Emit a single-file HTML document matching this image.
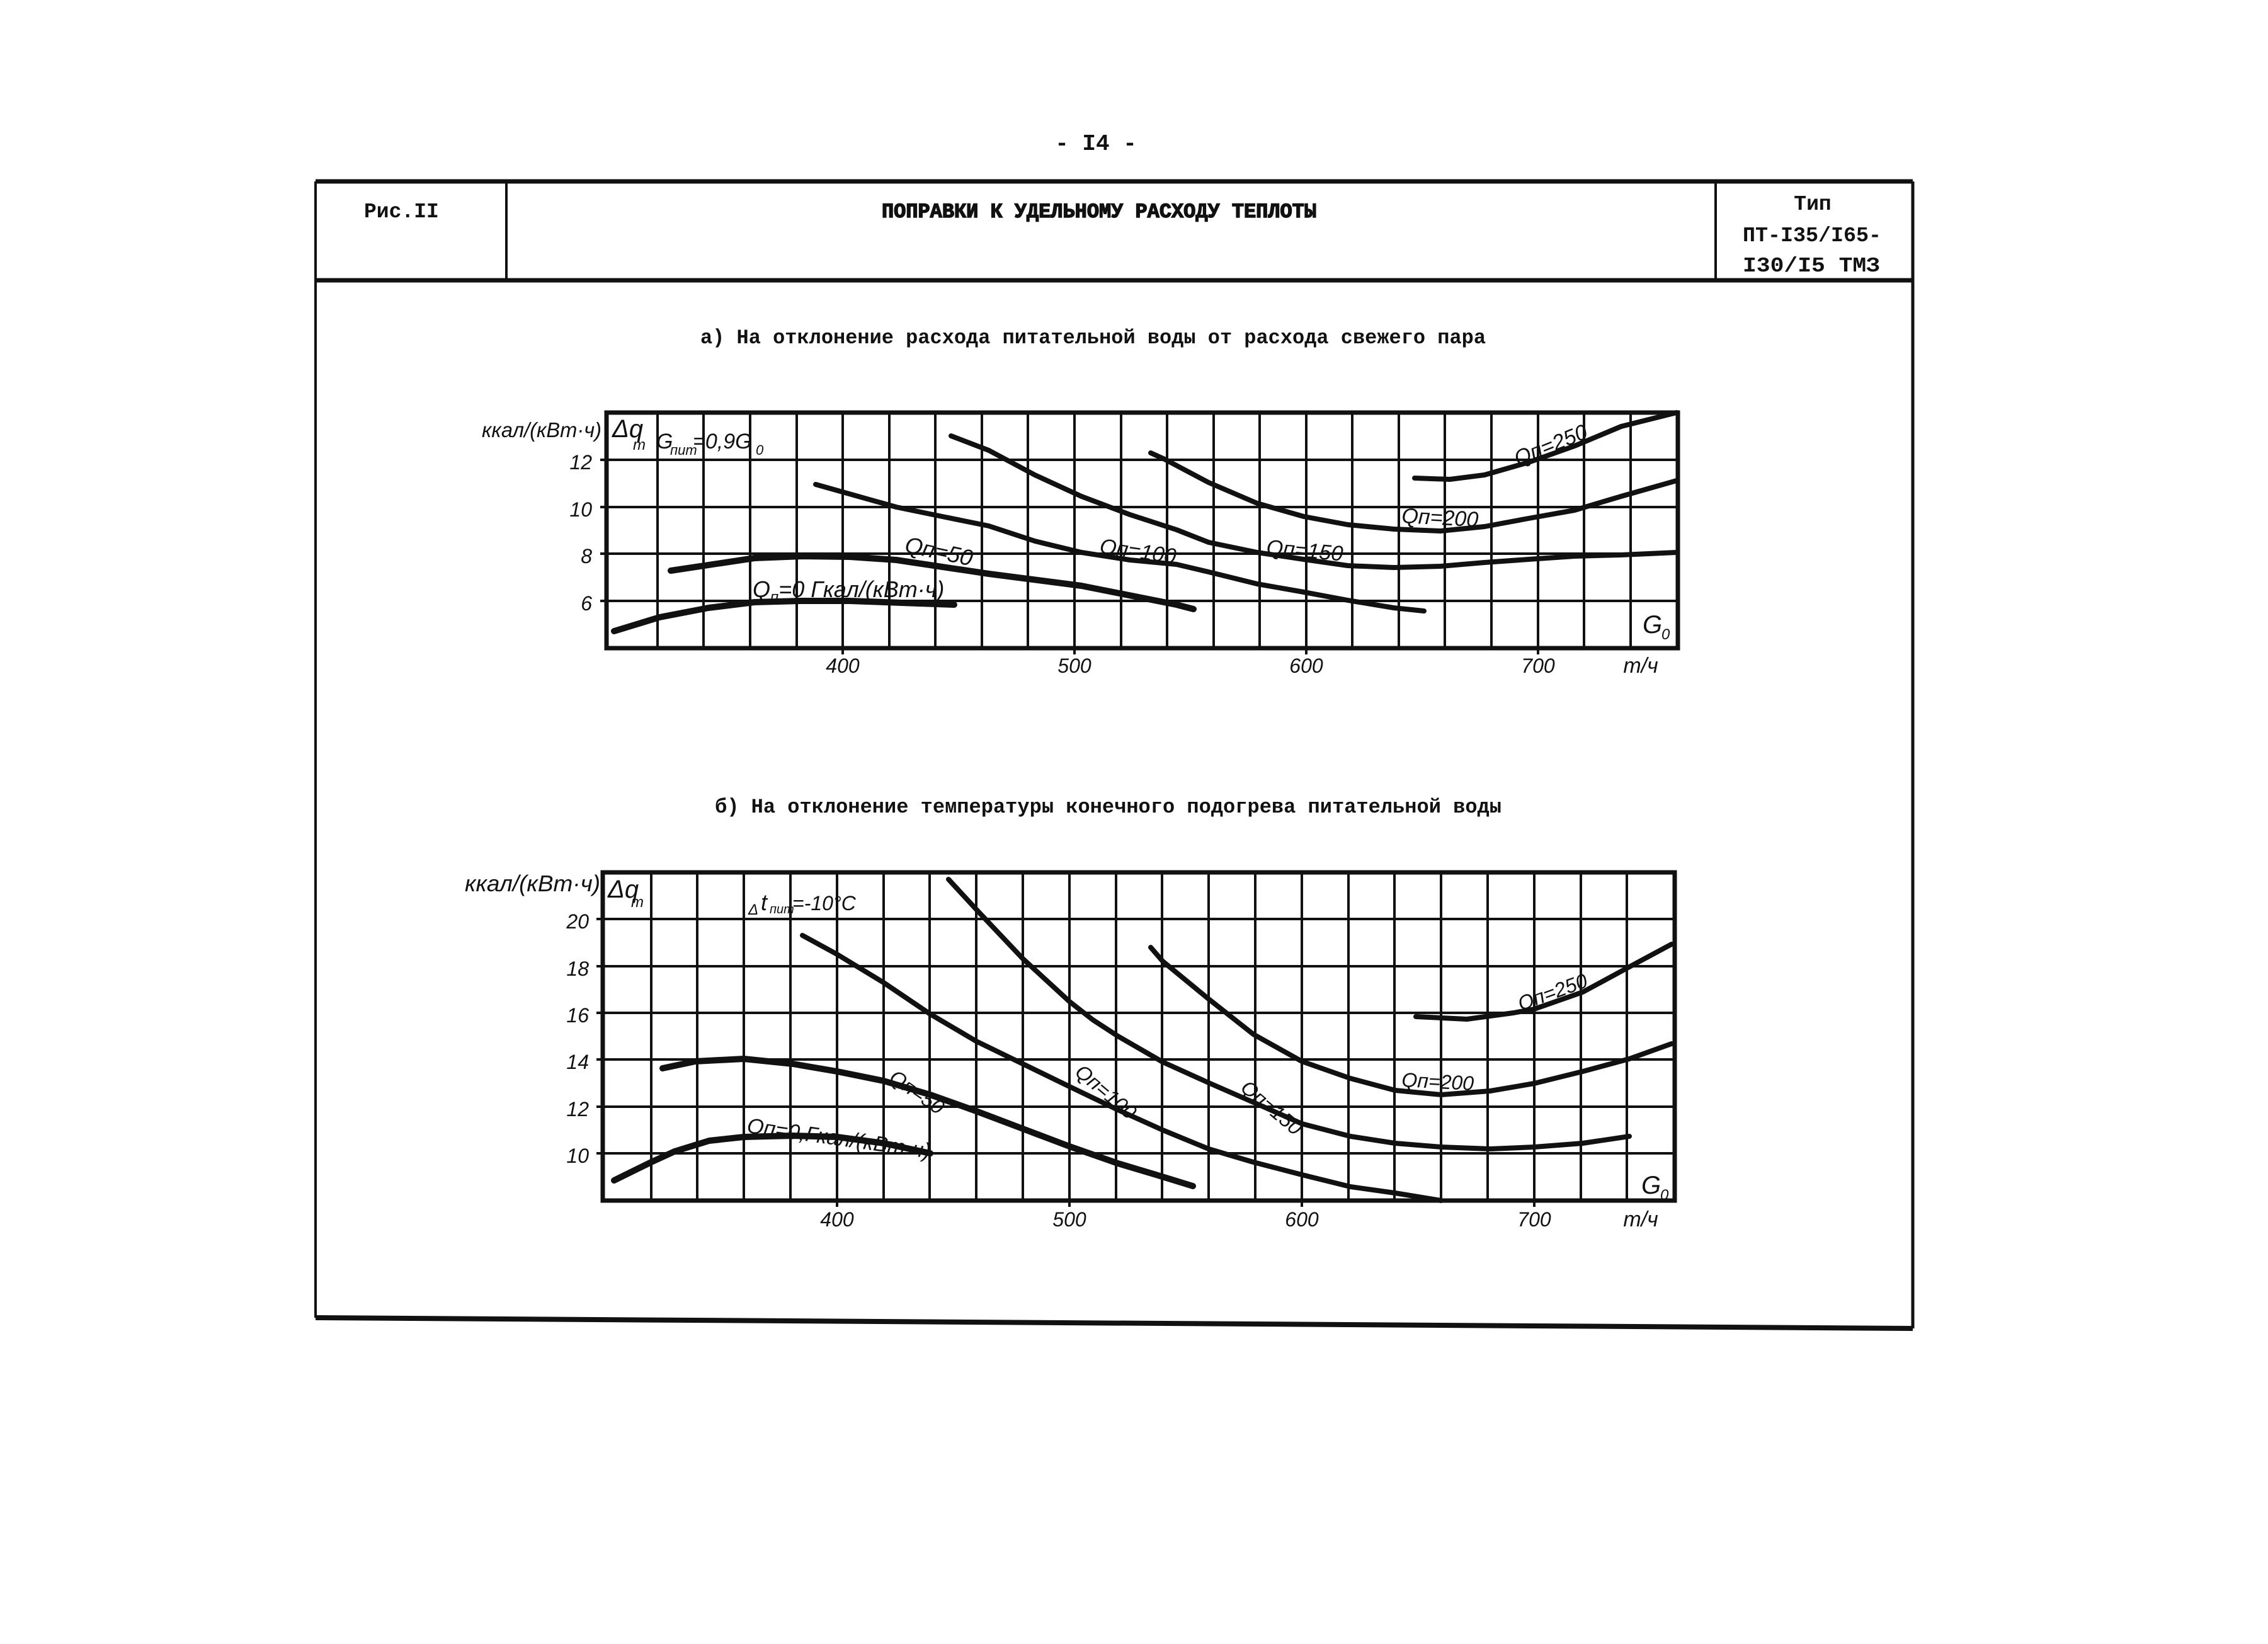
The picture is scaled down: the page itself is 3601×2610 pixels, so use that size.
<!DOCTYPE html>
<html><head><meta charset="utf-8"><style>
html,body{margin:0;padding:0;background:#fff;}
svg{display:block}
.m{font-family:"Liberation Mono","DejaVu Sans Mono",monospace;font-weight:bold;fill:#111}
.h{font-family:"Liberation Sans","DejaVu Sans",sans-serif;font-style:italic;fill:#111}
</style></head><body>
<svg width="3601" height="2610" viewBox="0 0 3601 2610" xmlns="http://www.w3.org/2000/svg">
<rect width="3601" height="2610" fill="#fff"/>
<text class="m" x="1740" y="238" font-size="36" text-anchor="middle">- I4 -</text>
<g stroke="#111" fill="none">
<path d="M501 288 L3037 288" stroke-width="7"/>
<path d="M501 288 L501 2092" stroke-width="4"/>
<path d="M3037 288 L3037 2109" stroke-width="5"/>
<path d="M501 2092 L3037 2109" stroke-width="8"/>
<path d="M501 445 L3037 445" stroke-width="7"/>
<path d="M804 288 L804 445" stroke-width="4"/>
<path d="M2724 288 L2724 445" stroke-width="4"/>
</g>
<text class="m" x="578" y="345" font-size="33">Рис.II</text>
<text class="m" x="1400" y="345" font-size="32" textLength="690" lengthAdjust="spacingAndGlyphs" stroke="#111" stroke-width="1.5">ПОПРАВКИ К УДЕЛЬНОМУ РАСХОДУ ТЕПЛОТЫ</text>
<text class="m" x="2878" y="333" font-size="33" text-anchor="middle">Тип</text>
<text class="m" x="2767" y="383" font-size="33" textLength="220" lengthAdjust="spacingAndGlyphs">ПТ-I35/I65-</text>
<text class="m" x="2767" y="431" font-size="33" textLength="218" lengthAdjust="spacingAndGlyphs">I30/I5  ТМЗ</text>
<text class="m" x="1112" y="545" font-size="32" textLength="1247" lengthAdjust="spacingAndGlyphs">а) На отклонение расхода питательной воды от расхода свежего пара</text>
<text class="m" x="1135" y="1290" font-size="32" textLength="1249" lengthAdjust="spacingAndGlyphs">б) На отклонение температуры конечного подогрева питательной воды</text>

<g stroke="#111" fill="none" stroke-width="4">
<path d="M1044 655V1029M1117 655V1029M1191 655V1029M1265 655V1029M1338 655V1029M1412 655V1029M1485 655V1029M1559 655V1029M1632 655V1029M1706 655V1029M1780 655V1029M1853 655V1029M1927 655V1029M2000 655V1029M2074 655V1029M2147 655V1029M2221 655V1029M2294 655V1029M2368 655V1029M2442 655V1029M2515 655V1029M2589 655V1029"/>
<path d="M953 730H2664M953 805H2664M953 879H2664M953 954H2664"/>
<rect x="963" y="655" width="1701" height="374" stroke-width="7"/>
<path d="M1338 1029v10M1706 1029v10M2074 1029v10M2442 1029v10"/>
</g>
<g stroke="#111" fill="none" stroke-width="10" stroke-linecap="round" stroke-linejoin="round">
<polyline points="975,1002 1047,980 1125,965 1198,956 1272,954 1349,954 1515,960"/>
<polyline points="1065,906 1198,886 1275,883 1349,884 1423,889 1570,911 1717,930 1868,960 1895,967"/>
<polyline stroke-width="8" points="1295,769 1423,805 1496,820 1570,835 1643,859 1717,877 1794,889 1868,896 1919,908 1996,927 2070,940 2140,953 2213,965 2261,970"/>
<polyline stroke-width="8" points="1510,692 1570,715 1643,754 1717,788 1794,817 1868,841 1919,861 1996,877 2070,888 2140,898 2213,901 2287,899 2357,893 2427,888 2500,883 2574,881 2662,877"/>
<polyline stroke-width="8" points="1827,719 1849,729 1919,766 1996,799 2070,820 2140,833 2213,840 2287,843 2357,836 2427,823 2500,810 2574,788 2662,763"/>
<polyline stroke-width="8" points="2246,759 2302,761 2357,754 2427,734 2500,708 2574,677 2662,655"/>
</g>
<g class="h">
<text class="h" x="765" y="694" font-size="33" textLength="190" lengthAdjust="spacingAndGlyphs">ккал/(кВт·ч)</text>
<text class="h" x="972" y="694" font-size="40">Δq</text>
<text class="h" x="1005" y="714" font-size="24">т</text>
<text class="h" x="1042" y="712" font-size="34">G</text>
<text class="h" x="1064" y="722" font-size="22">пит</text>
<text class="h" x="1100" y="712" font-size="34">=0,9G</text>
<text class="h" x="1200" y="722" font-size="22">0</text>
<text class="h" x="940" y="745" font-size="32" text-anchor="end">12</text>
<text class="h" x="940" y="820" font-size="32" text-anchor="end">10</text>
<text class="h" x="940" y="894" font-size="32" text-anchor="end">8</text>
<text class="h" x="940" y="969" font-size="32" text-anchor="end">6</text>
<text class="h" x="1338" y="1068" font-size="32" text-anchor="middle">400</text>
<text class="h" x="1706" y="1068" font-size="32" text-anchor="middle">500</text>
<text class="h" x="2074" y="1068" font-size="32" text-anchor="middle">600</text>
<text class="h" x="2442" y="1068" font-size="32" text-anchor="middle">700</text>
<text class="h" x="2605" y="1068" font-size="34" text-anchor="middle">т/ч</text>
<text class="h" x="2608" y="1005" font-size="40">G</text>
<text class="h" x="2638" y="1015" font-size="24">0</text>
<text class="h" x="1195" y="948" font-size="36">Q<tspan font-size="24" dy="8">п</tspan><tspan dy="-8">=0 Гкал/(кВт·ч)</tspan></text>
<text class="h" x="1435" y="876" font-size="36" transform="rotate(12 1435 876)">Qп=50</text>
<text class="h" x="1745" y="878" font-size="34" transform="rotate(8 1745 878)">Qп=100</text>
<text class="h" x="2010" y="880" font-size="34" transform="rotate(5 2010 880)">Qп=150</text>
<text class="h" x="2225" y="830" font-size="34" transform="rotate(3 2225 830)">Qп=200</text>
<text class="h" x="2410" y="740" font-size="34" transform="rotate(-22 2410 740)">Qп=250</text>
</g>

<g stroke="#111" fill="none" stroke-width="4">
<path d="M1034 1385V1906M1107 1385V1906M1181 1385V1906M1255 1385V1906M1329 1385V1906M1403 1385V1906M1476 1385V1906M1550 1385V1906M1624 1385V1906M1698 1385V1906M1772 1385V1906M1845 1385V1906M1919 1385V1906M1993 1385V1906M2067 1385V1906M2141 1385V1906M2214 1385V1906M2288 1385V1906M2362 1385V1906M2436 1385V1906M2510 1385V1906M2583 1385V1906"/>
<path d="M947 1459H2659M947 1534H2659M947 1608H2659M947 1682H2659M947 1757H2659M947 1831H2659"/>
<rect x="957" y="1385" width="1702" height="521" stroke-width="7"/>
<path d="M1329 1906v10M1698 1906v10M2067 1906v10M2436 1906v10"/>
</g>
<g stroke="#111" fill="none" stroke-width="10" stroke-linecap="round" stroke-linejoin="round">
<polyline points="975,1874 1034,1845 1071,1828 1126,1811 1181,1805 1259,1803 1329,1805 1403,1815 1477,1831"/>
<polyline points="1052,1696 1104,1685 1181,1681 1259,1689 1329,1701 1403,1716 1477,1738 1550,1764 1624,1792 1698,1820 1775,1847 1842,1867 1894,1883"/>
<polyline stroke-width="8" points="1274,1485 1329,1515 1403,1560 1477,1610 1550,1653 1624,1689 1698,1725 1775,1762 1846,1794 1919,1824 1990,1845 2067,1865 2144,1884 2215,1894 2288,1906"/>
<polyline stroke-width="8" points="1506,1396 1554,1448 1624,1522 1698,1590 1735,1619 1775,1645 1846,1686 1919,1719 1990,1750 2067,1784 2144,1804 2215,1815 2288,1821 2366,1824 2436,1821 2513,1815 2587,1804"/>
<polyline stroke-width="8" points="1827,1504 1846,1526 1919,1586 1990,1642 2067,1685 2144,1712 2215,1731 2288,1738 2366,1732 2436,1720 2513,1701 2587,1681 2654,1657"/>
<polyline stroke-width="8" points="2248,1614 2329,1618 2403,1608 2436,1602 2513,1575 2587,1535 2654,1499"/>
</g>
<g class="h">
<text class="h" x="738" y="1415" font-size="36" textLength="215" lengthAdjust="spacingAndGlyphs">ккал/(кВт·ч)</text>
<text class="h" x="965" y="1425" font-size="40">Δq</text>
<text class="h" x="1002" y="1440" font-size="24">т</text>
<text class="h" x="1188" y="1452" font-size="24">Δ</text>
<text class="h" x="1208" y="1445" font-size="36">t</text>
<text class="h" x="1222" y="1450" font-size="20">пит</text>
<text class="h" x="1258" y="1445" font-size="32">=-10°С</text>
<text class="h" x="935" y="1474" font-size="32" text-anchor="end">20</text>
<text class="h" x="935" y="1549" font-size="32" text-anchor="end">18</text>
<text class="h" x="935" y="1623" font-size="32" text-anchor="end">16</text>
<text class="h" x="935" y="1697" font-size="32" text-anchor="end">14</text>
<text class="h" x="935" y="1772" font-size="32" text-anchor="end">12</text>
<text class="h" x="935" y="1846" font-size="32" text-anchor="end">10</text>
<text class="h" x="1329" y="1947" font-size="32" text-anchor="middle">400</text>
<text class="h" x="1698" y="1947" font-size="32" text-anchor="middle">500</text>
<text class="h" x="2067" y="1947" font-size="32" text-anchor="middle">600</text>
<text class="h" x="2436" y="1947" font-size="32" text-anchor="middle">700</text>
<text class="h" x="2605" y="1947" font-size="34" text-anchor="middle">т/ч</text>
<text class="h" x="2606" y="1895" font-size="40">G</text>
<text class="h" x="2636" y="1905" font-size="24">0</text>
<text class="h" x="1185" y="1798" font-size="34" transform="rotate(8 1185 1798)">Qп=0,Гкал/(кВт·ч)</text>
<text class="h" x="1410" y="1715" font-size="32" transform="rotate(35 1410 1715)">Qп=50</text>
<text class="h" x="1705" y="1705" font-size="32" transform="rotate(40 1705 1705)">Qп=100</text>
<text class="h" x="1968" y="1730" font-size="32" transform="rotate(40 1968 1730)">Qп=150</text>
<text class="h" x="2225" y="1725" font-size="32" transform="rotate(3 2225 1725)">Qп=200</text>
<text class="h" x="2415" y="1605" font-size="32" transform="rotate(-20 2415 1605)">Qп=250</text>
</g>
</svg>
</body></html>
